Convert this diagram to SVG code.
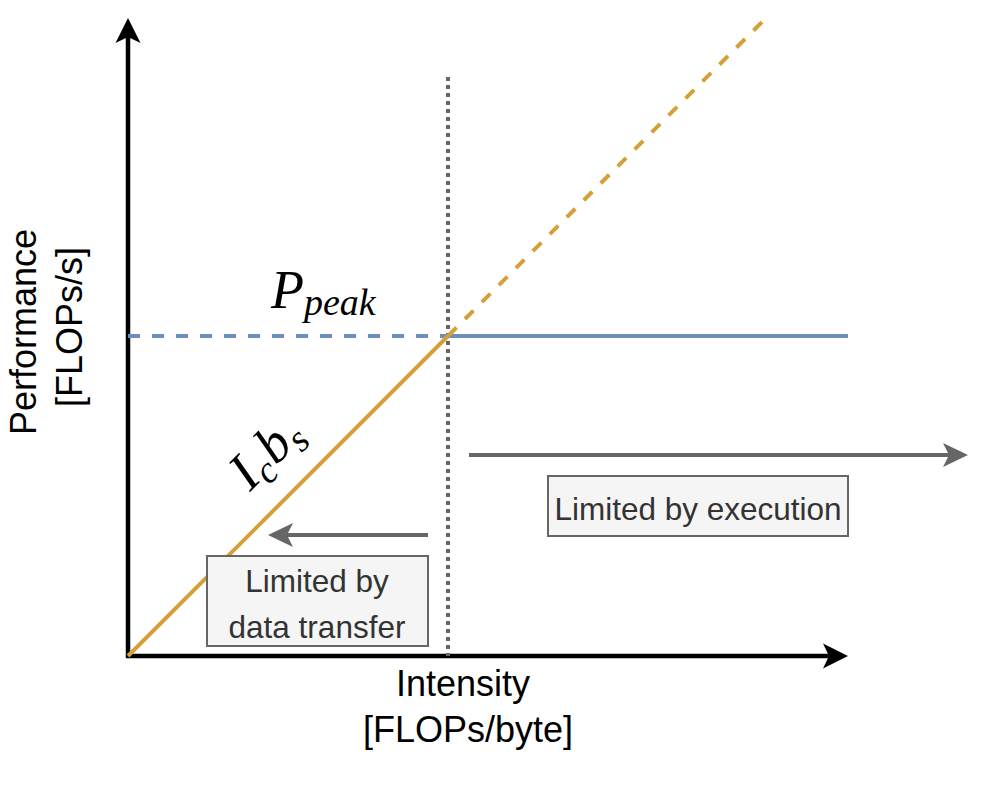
<svg xmlns="http://www.w3.org/2000/svg" width="988" height="798" viewBox="0 0 988 798">
  <style>
    .axis { stroke: #000; stroke-width: 4.5; fill: none; }
    .gold { stroke: #d5a03a; stroke-width: 4; fill: none; }
    .blue { stroke: #6c8ebf; stroke-width: 4; fill: none; }
    .dash { stroke-dasharray: 12 12; }
    .dotted { stroke: #666; stroke-width: 4; stroke-dasharray: 4 4; fill: none; }
    .garrow { stroke: #666; stroke-width: 4; fill: none; }
    .box { fill: #f5f5f5; stroke: #666; stroke-width: 2; }
    .boxtxt { font-family: "Liberation Sans", Arial, sans-serif; font-size: 31.5px; fill: #333; text-anchor: middle; }
    .axlbl { font-family: "Liberation Sans", Arial, sans-serif; font-size: 36px; fill: #000; text-anchor: middle; }
    .math { font-family: "Liberation Serif", "Times New Roman", serif; font-style: italic; fill: #000; }
  </style>
  <rect width="988" height="798" fill="#fff"/>
  <g id="connectors">
    <line class="axis" x1="128" y1="658" x2="128" y2="36"/>
    <path d="M128,18 L140.5,43 L128,37 L115.5,43 Z" fill="#000"/>
    <line class="axis" x1="126" y1="656" x2="830" y2="656"/>
    <path d="M848,656 L823,668.5 L829,656 L823,643.5 Z" fill="#000"/>
    <line class="dotted" x1="448" y1="77" x2="448" y2="656"/>
    <line class="blue dash" x1="128" y1="336" x2="448" y2="336"/>
    <line class="blue" x1="448" y1="336" x2="848" y2="336"/>
    <line class="gold" x1="128" y1="656" x2="448" y2="336"/>
    <line class="gold dash" x1="448" y1="336" x2="762" y2="22"/>
    <line class="garrow" x1="469" y1="455" x2="950" y2="455"/>
    <path d="M968,455 L943,467 L949,455 L943,443 Z" fill="#666"/>
    <line class="garrow" x1="428" y1="535" x2="285" y2="535"/>
    <path d="M268,535 L293,523 L287,535 L293,547 Z" fill="#666"/>
  </g>
  <g id="label-performance">
    <text class="axlbl" transform="translate(36,327) rotate(-90)">
      <tspan x="0" y="0">Performance</tspan>
      <tspan x="0" y="46">[FLOPs/s]</tspan>
    </text>
  </g>
  <g id="label-intensity">
    <text class="axlbl">
      <tspan x="468" y="696">Intensity</tspan>
      <tspan x="468" y="742">[FLOPs/byte]</tspan>
    </text>
  </g>
  <g id="label-ppeak">
    <text class="math" x="271" y="308" font-size="54">P<tspan font-size="38" dy="7">peak</tspan></text>
  </g>
  <g id="label-icbs">
    <text class="math" transform="translate(250,492) rotate(-45)" x="0" y="0" font-size="54">I<tspan font-size="38" dy="9">c</tspan><tspan dx="2" dy="-9">b</tspan><tspan font-size="38" dy="9">s</tspan></text>
  </g>
  <g id="box-execution">
    <rect class="box" x="548" y="476" width="300" height="60"/>
    <text class="boxtxt" x="698" y="520">Limited by execution</text>
  </g>
  <g id="box-transfer">
    <rect class="box" x="207" y="556" width="221" height="90"/>
    <text class="boxtxt"><tspan x="317" y="592">Limited by</tspan><tspan x="317" y="638">data transfer</tspan></text>
  </g>
</svg>
